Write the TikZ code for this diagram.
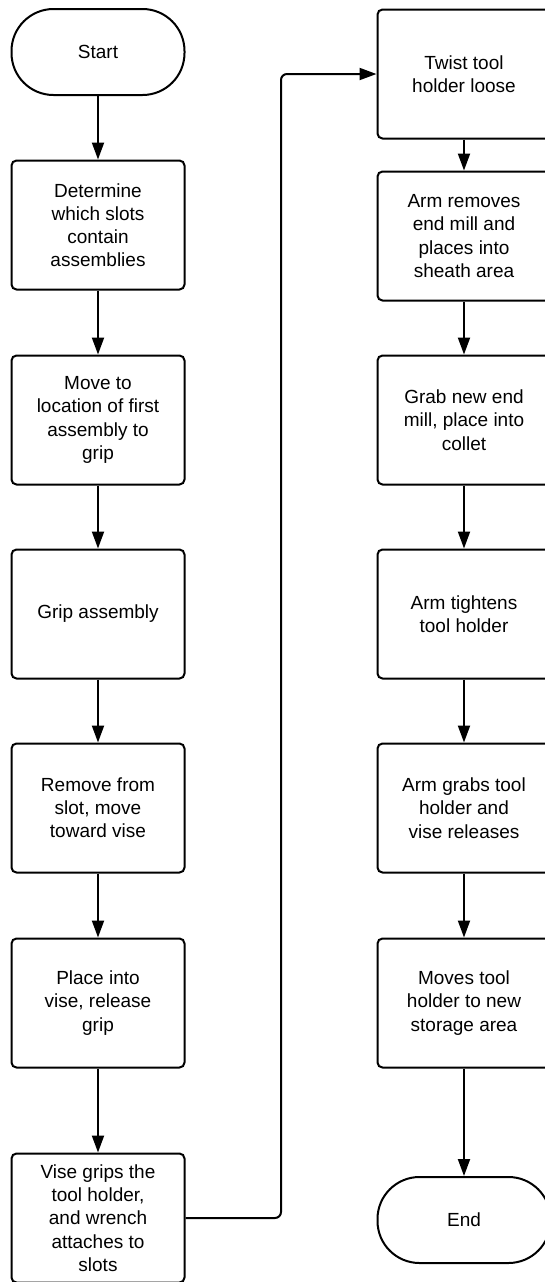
\documentclass[tikz,border=0pt]{standalone}
\usepackage{fontspec}
\setmainfont{Liberation Sans}
\usetikzlibrary{arrows.meta,calc}

\begin{document}
\begin{tikzpicture}[x=0.5pt, y=-0.5pt,
 proc/.style={shape=rectangle, draw, line width=1pt, rounded corners=2.5pt,
   minimum width=86.5pt, minimum height=64.5pt, inner sep=2pt, align=center,
   font=\fontsize{9.5}{11.6}\selectfont},
 term/.style={proc, rounded corners=21pt, minimum height=43pt},
 flow/.style={line width=1pt, -{Triangle[length=8.5pt,width=6pt]}}
]

\clip (0,0) rectangle (545,1282);

% left column
\node (start) at (98,52) [term] {Start};
\node (b1) at (98,225) [proc] {Determine\\which slots\\contain\\assemblies};
\node (b2) at (98,420) [proc] {Move to\\location of first\\assembly to\\grip};
\node (b3) at (98,614) [proc] {Grip assembly};
\node (b4) at (98,808) [proc] {Remove from\\slot, move\\toward vise};
\node (b5) at (98,1003) [proc] {Place into\\vise, release\\grip};
\node (b6) at (98,1218) [proc] {Vise grips the\\tool holder,\\and wrench\\attaches to\\slots};

% right column
\node (b7) at (464,74) [proc] {Twist tool\\holder loose};
\node (b8) at (464,236) [proc] {Arm removes\\end mill and\\places into\\sheath area};
\node (b9) at (464,420) [proc] {Grab new end\\mill, place into\\collet};
\node (b10) at (464,614) [proc] {Arm tightens\\tool holder};
\node (b11) at (464,808) [proc] {Arm grabs tool\\holder and\\vise releases};
\node (b12) at (464,1003) [proc] {Moves tool\\holder to new\\storage area};
\node (end) at (464,1220) [term] {End};

\foreach \a/\b in {start/b1, b1/b2, b2/b3, b3/b4, b4/b5, b5/b6,
                   b7/b8, b8/b9, b9/b10, b10/b11, b11/b12, b12/end}
 \draw[flow] (\a) -- (\b);

% jump over to the second column
\coordinate (turn) at ($(b6.east)!0.5!(b7.west)$);
\draw[flow, rounded corners=3pt] (b6.east) -| (turn) |- (b7.west);

\end{tikzpicture}
\end{document}
